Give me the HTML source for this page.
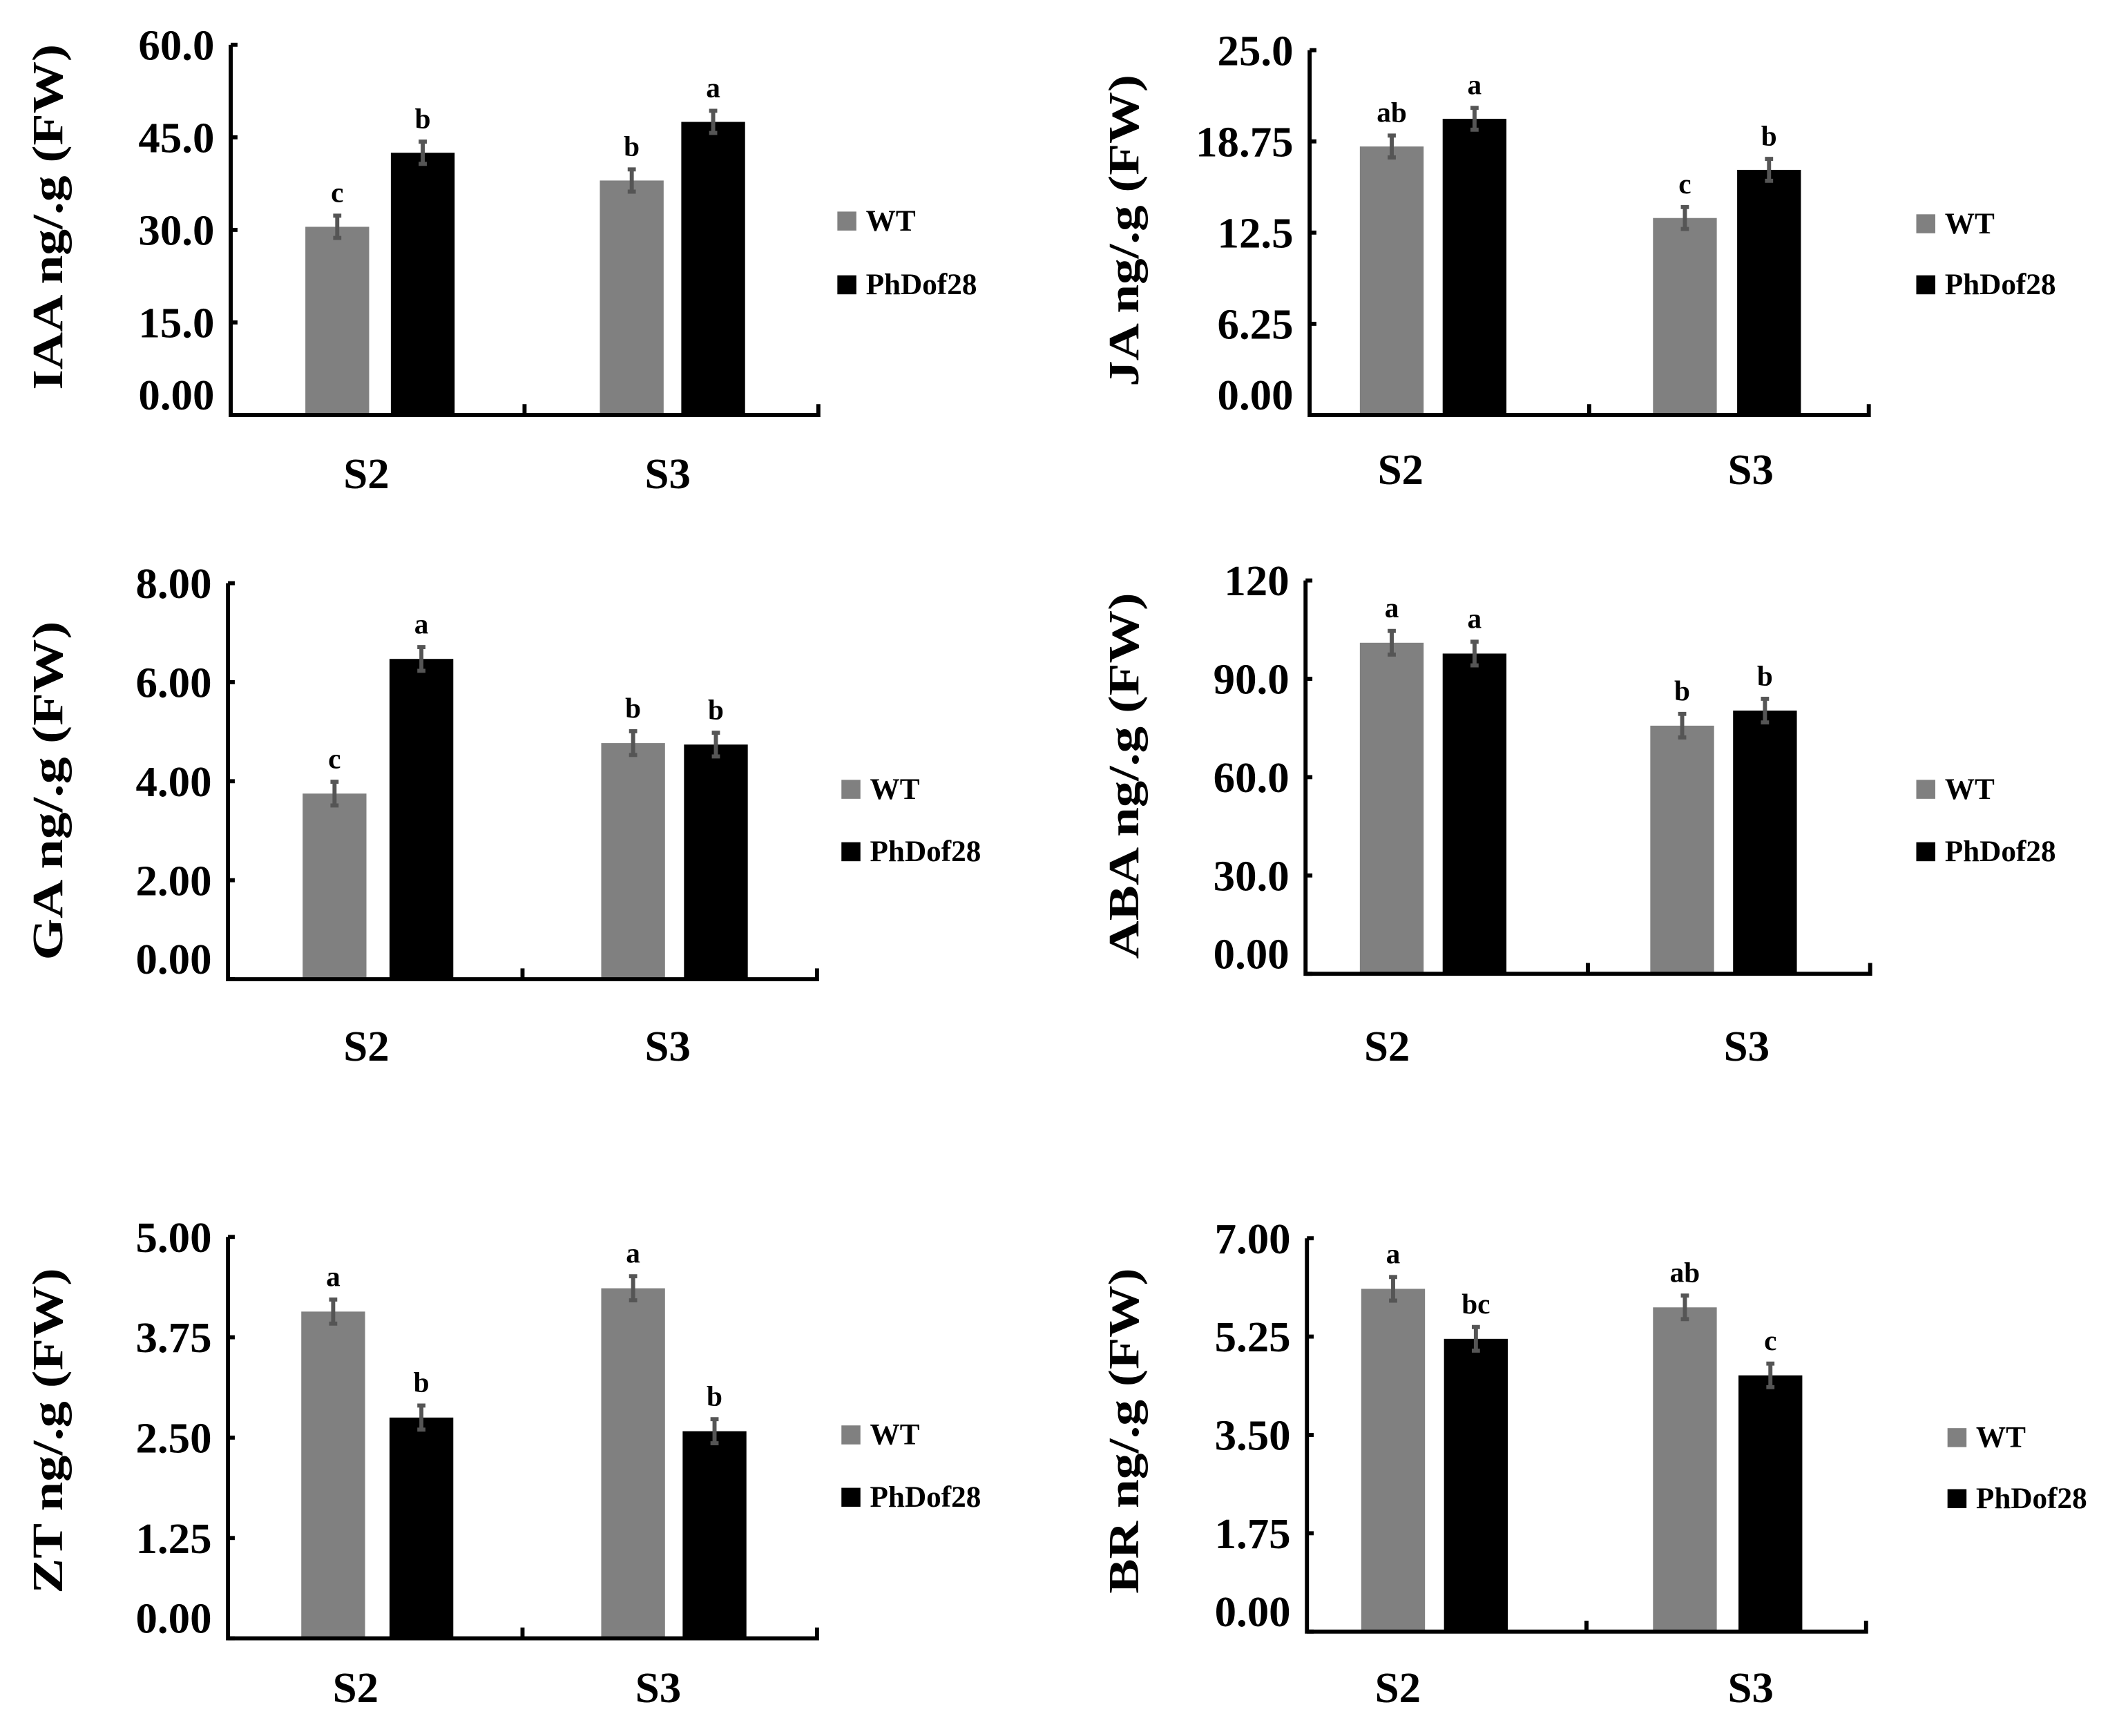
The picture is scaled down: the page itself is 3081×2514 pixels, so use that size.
<!DOCTYPE html>
<html><head><meta charset="utf-8"><style>
html,body{margin:0;padding:0;background:#fff;}
svg{display:block;}
text{font-family:"Liberation Serif",serif;font-weight:bold;fill:#000;}
</style></head><body>
<svg id="chart" width="3081" height="2514" viewBox="0 0 1568 1280" preserveAspectRatio="none" xmlns="http://www.w3.org/2000/svg"></svg>
<script>
const categories = ["S2","S3"];
const seriesNames = ["WT","PhDof28"];
const iaaWT = [30.5, 38.0];
const iaaPh = [42.5, 47.5];
const iaaLetters = [["c","b"],["b","a"]];
const iaaTicks = ["0.00","15.0","30.0","45.0","60.0"];
const jaWT = [18.4, 13.5];
const jaPh = [20.3, 16.8];
const jaLetters = [["ab","a"],["c","b"]];
const jaTicks = ["0.00","6.25","12.5","18.75","25.0"];
const gaWT = [3.75, 4.77];
const gaPh = [6.47, 4.74];
const gaLetters = [["c","a"],["b","b"]];
const gaTicks = ["0.00","2.00","4.00","6.00","8.00"];
const abaWT = [101, 75.7];
const abaPh = [97.7, 80.3];
const abaLetters = [["a","a"],["b","b"]];
const abaTicks = ["0.00","30.0","60.0","90.0","120"];
const ztWT = [4.07, 4.36];
const ztPh = [2.75, 2.58];
const ztLetters = [["a","b"],["a","b"]];
const ztTicks = ["0.00","1.25","2.50","3.75","5.00"];
const brWT = [6.1, 5.77];
const brPh = [5.21, 4.56];
const brLetters = [["a","bc"],["ab","c"]];
const brTicks = ["0.00","1.75","3.50","5.25","7.00"];

const panels = [
 {id:"iaa",title:"IAA ng/.g  (FW)",tl:255,max:60,wt:iaaWT,ph:iaaPh,letters:iaaLetters,ticks:iaaTicks,ax:170,top:33,bot:306,right:603,tx:35,ty:160,legX:617,legY:[163,210],catX:[270,492],catY:360,bars:[225,288,442,502]},
 {id:"ja",title:"JA ng/.g  (FW)",tl:230,max:25,wt:jaWT,ph:jaPh,letters:jaLetters,ticks:jaTicks,ax:965,top:37,bot:306,right:1377,tx:828,ty:170,legX:1412,legY:[165,210],catX:[1032,1290],catY:357,bars:[1002,1063,1218,1280]},
 {id:"ga",title:"GA ng/.g  (FW)",tl:250,max:8,wt:gaWT,ph:gaPh,letters:gaLetters,ticks:gaTicks,ax:168,top:430,bot:722,right:602,tx:35,ty:583,legX:620,legY:[582,628],catX:[270,492],catY:782,bars:[223,287,443,504]},
 {id:"aba",title:"ABA ng/.g  (FW)",tl:270,max:120,wt:abaWT,ph:abaPh,letters:abaLetters,ticks:abaTicks,ax:962,top:428,bot:718,right:1378,tx:828,ty:572,legX:1412,legY:[582,628],catX:[1022,1287],catY:782,bars:[1002,1063,1216,1277]},
 {id:"zt",title:"ZT ng/.g  (FW)",tl:240,max:5,wt:ztWT,ph:ztPh,letters:ztLetters,ticks:ztTicks,ax:168,top:912,bot:1208,right:602,tx:35,ty:1055,legX:620,legY:[1058,1104],catX:[262,485],catY:1255,bars:[222,287,443,503]},
 {id:"br",title:"BR ng/.g  (FW)",tl:240,max:7,wt:brWT,ph:brPh,letters:brLetters,ticks:brTicks,ax:963,top:913,bot:1203,right:1375,tx:828,ty:1055,legX:1435,legY:[1060,1105],catX:[1030,1290],catY:1255,bars:[1003,1064,1218,1281]}
];
const NS="http://www.w3.org/2000/svg";
const svg=document.getElementById("chart");
function mk(tag,attrs,parent,txt){const e=document.createElementNS(NS,tag);for(const k in attrs)e.setAttribute(k,attrs[k]);if(txt!==undefined)e.textContent=txt;parent.appendChild(e);return e;}
panels.forEach(p=>{
 const g=mk("g",{},svg);
 
 
 const y=v=>p.bot-(v/p.max)*(p.bot-p.top);
 const bw=47;
 categories.forEach((c,ci)=>{
  [[p.wt,"#808080",0],[p.ph,"#000",1]].forEach(([arr,col,si])=>{
   const x=p.bars[ci*2+si]; const v=arr[ci]; const yt=y(v);
   const r=mk("rect",{x:x,y:yt,width:bw,height:p.bot-yt,fill:col},g);
   
   
   const e=(p.bot-p.top)*0.03; const cx=x+bw/2;
   const eb=mk("path",{d:`M${cx} ${yt-e}V${yt+e}M${cx-3} ${yt-e}H${cx+3}M${cx-3} ${yt+e}H${cx+3}`,stroke:"#555",fill:"none","stroke-width":3},g);
   
   
   const lt=mk("text",{x:cx,y:yt-e-10,"text-anchor":"middle","font-size":21},g,p.letters[ci][si]);
   
   
  });
  const cl=mk("text",{x:p.catX[ci],y:p.catY,"text-anchor":"middle","font-size":32},g,c);
  
  
 });
 const axes=mk("path",{d:`M${p.ax} ${p.top}V${p.bot}H${p.right}V${p.bot-8}M${(p.ax+p.right)/2} ${p.bot}V${p.bot-8}`,stroke:"#000",fill:"none","stroke-width":3},g);
 
 
 p.ticks.forEach((t,i)=>{
  const v=p.max*i/(p.ticks.length-1); const ty=y(v);
  mk("path",{d:`M${p.ax} ${ty}H${p.ax+5}`,stroke:"#000","stroke-width":3},g);
  const tl=mk("text",{x:p.ax-12,y:Math.min(ty+11,p.bot-4),"text-anchor":"end","font-size":32},g,t);
  
  
 });
 const tt=mk("text",{x:p.tx,y:p.ty,"text-anchor":"middle","font-size":32,textLength:p.tl,lengthAdjust:"spacingAndGlyphs",transform:`rotate(-90 ${p.tx} ${p.ty})`,"dominant-baseline":"central"},g,p.title);
 
 
 seriesNames.forEach((s,si)=>{
  const ly=p.legY[si];
  const sw=mk("rect",{x:p.legX,y:ly-7,width:14,height:14,fill:si?"#000":"#808080"},g);
  
  
  const lt=mk("text",{x:p.legX+21,y:ly+7,"font-size":22},g,s);
  
  
 });
});
</script>
</body></html>
